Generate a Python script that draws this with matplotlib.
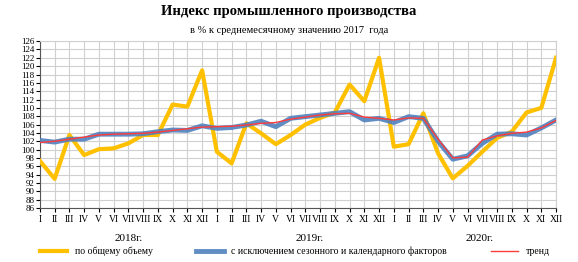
import numpy as np
import matplotlib.pyplot as plt

months = ["I", "II", "III", "IV", "V", "VI", "VII", "VIII", "IX", "X", "XI", "XII"] * 3
years = ["2018г.", "2019г.", "2020г."]

total = [97.3, 93.0, 103.5, 98.7, 100.1, 100.3, 101.5, 103.5, 103.5, 110.8, 110.3, 119.0,
         99.5, 96.7, 106.3, 103.9, 101.3, 103.5, 106.0, 107.6, 108.9, 115.6, 111.6, 122.0,
         100.7, 101.3, 108.7, 99.1, 93.1, 96.1, 99.5, 102.8, 104.3, 108.9, 110.0, 122.0]
adjusted = [102.2, 101.8, 102.5, 102.5, 103.7, 103.7, 103.7, 103.8, 104.3, 104.7, 104.6, 105.7,
            105.1, 105.3, 105.9, 106.8, 105.5, 107.5, 107.9, 108.3, 108.7, 109.1, 107.1, 107.5,
            106.5, 107.9, 107.5, 102.0, 97.7, 98.5, 101.5, 103.7, 103.8, 103.5, 105.2, 107.1]
trend = [101.7, 102.0, 102.5, 103.0, 103.5, 103.7, 103.8, 103.9, 104.2, 104.6, 105.0, 105.4,
         105.5, 105.6, 105.9, 106.3, 106.5, 107.3, 107.8, 108.3, 108.6, 108.7, 107.8, 107.5,
         107.1, 107.6, 107.5, 102.5, 98.0, 98.2, 102.3, 103.3, 103.9, 104.2, 105.2, 107.0]

plt.rcParams['font.family'] = ['Liberation Serif', 'DejaVu Serif']

fig = plt.figure(figsize=(5.78, 2.62), dpi=100)
ax = fig.add_axes([0.069, 0.206, 0.893, 0.637])

x = np.arange(len(months))
ax.plot(x, total, color="#FFC000", lw=3, label="по общему объему", zorder=3)
ax.plot(x, adjusted, color="#4F81BD", lw=3.5, alpha=0.9,
        label="с исключением сезонного и календарного факторов", zorder=4)
ax.plot(x, trend, color="#FF3B3B", lw=1, label="тренд", zorder=5)

ax.set_xlim(0, len(months) - 1)
ax.set_ylim(86, 126)
ax.set_yticks(np.arange(86, 127, 2))
ax.set_xticks(x)
ax.set_xticklabels(months)
ax.tick_params(axis='x', labelsize=7, length=3, pad=2)
ax.tick_params(axis='y', labelsize=6.5, length=3, pad=1)
ax.grid(True, color="#D0D0D0", lw=0.8)
ax.set_axisbelow(True)
for s in ["top", "right"]:
    ax.spines[s].set_color("#D0D0D0")
for s in ["left", "bottom"]:
    ax.spines[s].set_color("#555555")

for pos, yr in zip([6, 18.3, 29.8], years):
    ax.text(pos, -0.18, yr, transform=ax.get_xaxis_transform(), ha="center", va="center", fontsize=8)

fig.text(0.5, 0.955, "Индекс промышленного производства", ha="center", va="center",
         fontsize=10.5, fontweight="bold")
fig.text(0.5, 0.885, "в % к среднемесячному значению 2017  года", ha="center", va="center", fontsize=7.5)

fig.legend(loc="center", bbox_to_anchor=(0.51, 0.04), ncol=3, frameon=False, fontsize=7,
           handlelength=2.8, columnspacing=4.5)

fig.savefig("out.png", dpi=100)
